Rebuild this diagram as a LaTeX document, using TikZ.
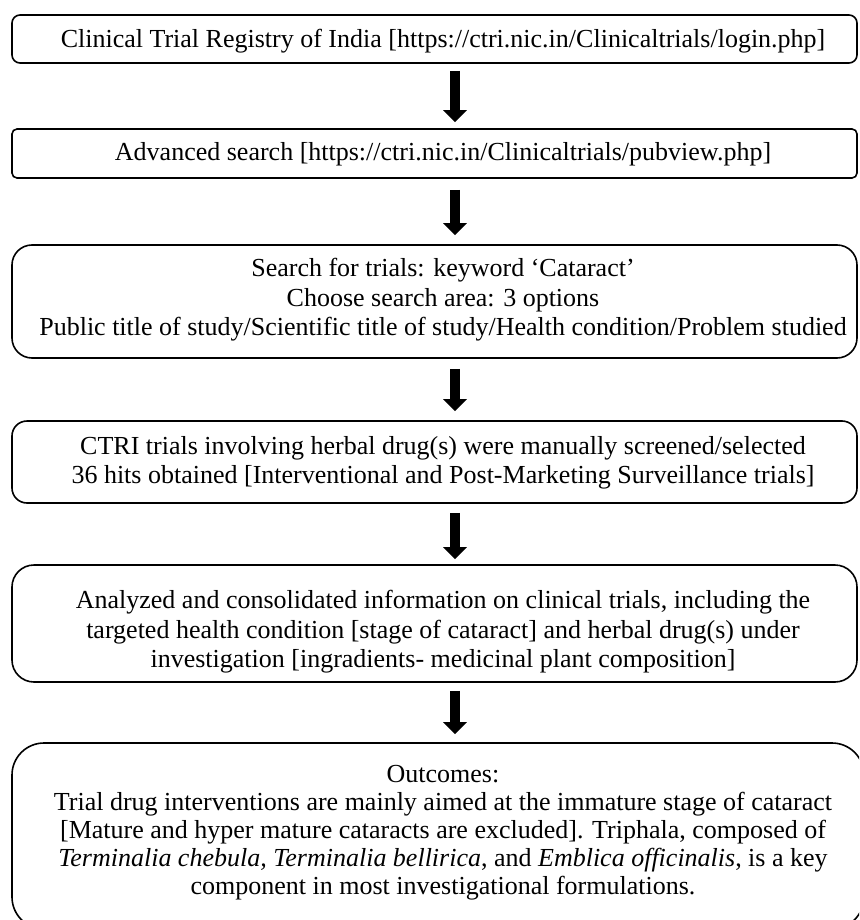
\documentclass[tikz,border=0pt]{standalone}
\usepackage{fontspec}
\setmainfont{Liberation Serif}
\usetikzlibrary{arrows.meta}
\begin{document}
\begin{tikzpicture}[x=1pt,y=-1pt,
  box/.style={draw, line width=1.6pt, inner sep=0pt},
  txt/.style={align=center, inner sep=0pt, font=\fontsize{26}{29.5}\selectfont},
  bigarrow/.style={line width=10.5pt, -{Triangle[width=23pt,length=12pt]}}]
\useasboundingbox (0,0) rectangle (859,920);
\clip (0,0) rectangle (859,920);
\node[box, rounded corners=8pt, minimum width=845pt, minimum height=48pt] (b1) at (434.5,39) {};
\node[box, rounded corners=5pt, minimum width=845pt, minimum height=49pt] (b2) at (434.5,153.5) {};
\node[box, rounded corners=20pt, minimum width=845pt, minimum height=113pt] (b3) at (434.5,301.5) {};
\node[box, rounded corners=15pt, minimum width=845pt, minimum height=82pt] (b4) at (434.5,462) {};
\node[box, rounded corners=22pt, minimum width=845pt, minimum height=117pt] (b5) at (434.5,623.5) {};
\node[box, rounded corners=32pt, minimum width=852pt, minimum height=186pt] (b6) at (438,836) {};
\node[txt] (t1) at (443,41.5) {Clinical Trial Registry of India [https://ctri.nic.in/Clinicaltrials/login.php]};
\node[txt] (t2) at (443,154) {Advanced search [https://ctri.nic.in/Clinicaltrials/pubview.php]};
\node[txt] (t3) at (443,300) {Search for trials: keyword ‘Cataract’\\Choose search area: 3 options\\Public title of study/Scientific title of study/Health condition/Problem studied};
\node[txt] (t4) at (443,463) {CTRI trials involving herbal drug(s) were manually screened/selected\\36 hits obtained [Interventional and Post-Marketing Surveillance trials]};
\node[txt] (t5) at (443,632) {Analyzed and consolidated information on clinical trials, including the\\targeted health condition [stage of cataract] and herbal drug(s) under\\investigation [ingradients- medicinal plant composition]};
\node[txt, font=\fontsize{26}{28}\selectfont] (t6) at (443,833) {Outcomes:\\Trial drug interventions are mainly aimed at the immature stage of cataract\\{[}Mature and hyper mature cataracts are excluded]. Triphala, composed of\\\textit{Terminalia chebula, Terminalia bellirica}, and \textit{Emblica officinalis}, is a key\\component in most investigational formulations.};
\draw[bigarrow] ([xshift=20.5pt,yshift=-7pt]b1.south) -- ([xshift=20.5pt,yshift=6pt]b2.north);
\draw[bigarrow] ([xshift=20.5pt,yshift=-11pt]b2.south) -- ([xshift=20.5pt,yshift=9pt]b3.north);
\draw[bigarrow] ([xshift=20.5pt,yshift=-10pt]b3.south) -- ([xshift=20.5pt,yshift=9pt]b4.north);
\draw[bigarrow] ([xshift=20.5pt,yshift=-9pt]b4.south) -- ([xshift=20.5pt,yshift=5pt]b5.north);
\draw[bigarrow] ([xshift=20.5pt,yshift=-8pt]b5.south) -- ([xshift=17pt,yshift=8pt]b6.north);
\end{tikzpicture}
\end{document}
